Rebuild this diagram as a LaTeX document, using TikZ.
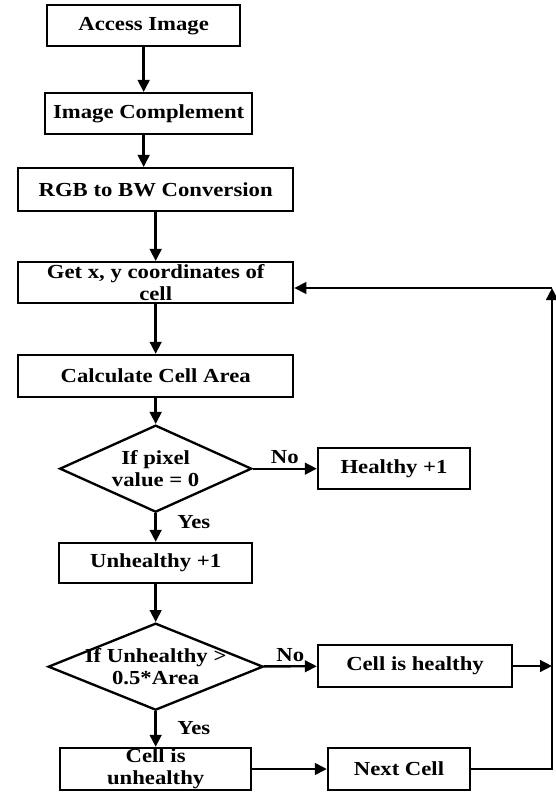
\documentclass[tikz,border=0pt]{standalone}
\usepackage{fontspec}
\setmainfont{Liberation Serif}[FakeStretch=1.14]
\usetikzlibrary{shapes.geometric,arrows.meta}

\begin{document}
\begin{tikzpicture}[
    >={Triangle[length=3.6mm,width=3.5mm]},
    line width=2pt,
    font={\fontsize{17}{18.5}\selectfont\bfseries},
    process/.style={shape=rectangle,draw=black,align=center,inner sep=0pt,minimum height=1.23cm},
    decision/.style={shape=diamond,draw=black,align=center,inner xsep=0pt,inner ysep=-3.5mm,minimum height=2.61cm}
]
    \useasboundingbox (0,0) rectangle (16.65,-23.76);

    \node[process,minimum width=5.79cm] (Access Image) at (4.31,-0.77) {Access Image};
    \node[process,minimum width=6.21cm] (Image Complement) at (4.46,-3.41) {Image Complement};
    \node[process,minimum width=8.25cm,minimum height=1.29cm] (RGB to BW Conversion) at (4.67,-5.69) {RGB to BW Conversion};
    \node[process,minimum width=8.25cm] (Get Coordinates) at (4.67,-8.48) {Get x, y coordinates of\\cell};
    \node[process,minimum width=8.25cm,minimum height=1.26cm] (Calculate Cell Area) at (4.67,-11.28) {Calculate Cell Area};
    \node[decision,aspect=2.2,minimum width=5.76cm] (If pixel) at (4.67,-14.06) {If pixel\\value = 0};
    \node[process,minimum width=4.56cm] (Healthy) at (11.82,-14.06) {Healthy +1};
    \node[process,minimum width=5.79cm,minimum height=1.2cm] (Unhealthy) at (4.67,-16.89) {Unhealthy +1};
    \node[decision,aspect=2.47,minimum width=6.45cm] (If Unhealthy) at (4.67,-20.0) {If Unhealthy >\\0.5*Area};
    \node[process,minimum width=5.82cm,minimum height=1.26cm] (Cell is healthy) at (12.45,-19.98) {Cell is healthy};
    \node[process,minimum width=5.73cm,minimum height=1.26cm] (Cell is unhealthy) at (4.67,-23.07) {Cell is\\unhealthy};
    \node[process,minimum width=4.26cm,minimum height=1.26cm] (Next Cell) at (11.97,-23.07) {Next Cell};
    \coordinate (Loop Top) at (16.56,-8.64);
    \coordinate (Loop Join) at (16.56,-19.98);

    \path [->] (Access Image) edge (Access Image|-Image Complement.north);
    \path [->] (Image Complement.south-|Access Image) edge (Access Image|-RGB to BW Conversion.north);
    \path [->] (RGB to BW Conversion) edge (Get Coordinates);
    \path [->] (Get Coordinates) edge (Calculate Cell Area);
    \path [->] (Calculate Cell Area) edge (If pixel);
    \path [->] (If pixel) edge node[above] {No} (Healthy);
    \path [->] (If pixel) edge node[pos=0.3,right=5mm] {Yes} (Unhealthy);
    \path [->] (Unhealthy) edge (If Unhealthy);
    \path [->] (If Unhealthy) edge node[above] {No} (Cell is healthy);
    \path [->] (If Unhealthy) edge node[pos=0.47,right=5mm] {Yes} (Cell is unhealthy);
    \path [->] (Cell is unhealthy) edge (Next Cell);
    \path [->] (Cell is healthy) edge (Loop Join);
    \draw [->] (Next Cell) -| (Loop Top);
    \draw [->] (Loop Top) -- (Loop Top-|Get Coordinates.east);
\end{tikzpicture}
\end{document}
